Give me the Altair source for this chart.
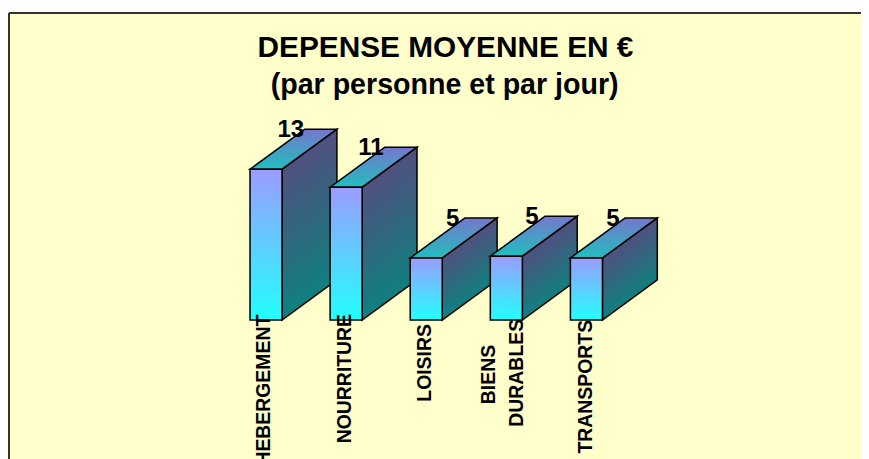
import altair as alt
import pandas as pd

# ---- data
categories = ["HEBERGEMENT", "NOURRITURE", "LOISIRS", "BIENS DURABLES", "TRANSPORTS"]
values = [13.0, 11.45, 5.35, 5.5, 5.35]
shown = ["13", "11", "5", "5", "5"]
title_lines = ["DEPENSE MOYENNE EN €", "(par personne et par jour)"]

# ---- layout (chart units: 1 x unit = one category step, 1 y unit = one euro)
W, H = 853, 451
PX_X, PX_Y = 80.1, 11.6
X0, Y0 = 242, 312          # pixel of category 0 / of zero inside the chart
BAR_W = 0.40
DEPTH_X, DEPTH_Y = 0.685, 3.45
FONT = "Liberation Sans"

x_scale = alt.Scale(domain=[-X0 / PX_X, (W - X0) / PX_X], range=[0, W], nice=False, zero=False)
y_scale = alt.Scale(domain=[-(H - Y0) / PX_Y, Y0 / PX_Y], range=[H, 0], nice=False, zero=False)
X = lambda f: alt.X(f, type="quantitative", scale=x_scale, axis=None)
Y = lambda f: alt.Y(f, type="quantitative", scale=y_scale, axis=None)


def grad(c_start, c_end, x1=0, y1=0, x2=0, y2=1):
    return alt.Gradient(gradient="linear", x1=x1, y1=y1, x2=x2, y2=y2,
                        stops=[alt.GradientStop(offset=0, color=c_start),
                               alt.GradientStop(offset=1, color=c_end)])


def side_grad(v):
    # iso-colour lines run parallel to the slanted top edge of the side face
    rise = DEPTH_Y / (v + DEPTH_Y)
    drop = 1 - rise
    s = drop / (rise ** 2 + 1)
    return grad("#50507F", "#0F8080", x1=0, y1=rise, x2=rise * s, y2=rise + s)


stroke = dict(stroke="black", strokeWidth=1.5, strokeJoin="miter")
layers = []

# panel
panel = alt.Chart(pd.DataFrame({"a": [0]}))
layers.append(panel.mark_rect(fill="#FFFFCC").encode(
    x=alt.value(1), x2=alt.value(W + 5), y=alt.value(5), y2=alt.value(H + 5)))
layers.append(panel.mark_rule(color="#333333", strokeWidth=2).encode(
    x=alt.value(1), x2=alt.value(W + 5), y=alt.value(5)))
layers.append(panel.mark_rule(color="#333333", strokeWidth=2).encode(
    x=alt.value(1), y=alt.value(5), y2=alt.value(H + 5)))

# 3-D bars, back to front
for i, v in enumerate(values):
    xl, xr = i, i + BAR_W
    side = pd.DataFrame({"x": [xr, xr + DEPTH_X], "top": [v, v + DEPTH_Y], "bot": [0, DEPTH_Y]})
    layers.append(alt.Chart(side).mark_area(fill=side_grad(v), **stroke).encode(
        x=X("x"), y=Y("top"), y2="bot"))
    top = pd.DataFrame({"y": [v, v + DEPTH_Y], "l": [xl, xl + DEPTH_X], "r": [xr, xr + DEPTH_X]})
    layers.append(alt.Chart(top).mark_area(orient="horizontal", fill=grad("#7777CC", "#1FBFBF"), **stroke).encode(
        y=Y("y"), x=X("l"), x2="r"))
    front = pd.DataFrame({"l": [xl], "r": [xr], "v": [v], "z": [0]})
    layers.append(alt.Chart(front).mark_rect(fill=grad("#9C9CFF", "#22FFFF"), **stroke).encode(
        x=X("l"), x2="r", y=Y("v"), y2="z"))

# value labels
label_shift = [0.51, 0.51, 0.53, 0.52, 0.53]
val = pd.DataFrame({"x": [i + s for i, s in enumerate(label_shift)],
                    "y": [v + 3.4 for v in values],
                    "t": shown})
layers.append(alt.Chart(val).mark_text(font=FONT, fontWeight="bold", fontSize=24, color="black",
                                       align="center", baseline="middle").encode(
    x=X("x"), y=Y("y"), text="t:N"))

# category labels (rotated)
label_rows = []
x_shift = [0.18, 0.19, 0.19, 0.0, 0.19]
y_mid = [-6.05, -5.05, -3.7, -4.5, -5.75]
for i, c in enumerate(categories):
    parts = c.split(" ")
    if len(parts) == 1:
        label_rows.append({"x": i + x_shift[i], "y": y_mid[i], "t": c})
    else:
        label_rows.append({"x": i - 0.01, "y": -4.7, "t": parts[0]})
        label_rows.append({"x": i + 0.33, "y": -4.55, "t": parts[1]})
layers.append(alt.Chart(pd.DataFrame(label_rows)).mark_text(
    font=FONT, fontWeight="bold", fontSize=19.4, color="black", angle=270,
    align="center", baseline="middle").encode(x=X("x"), y=Y("y"), text="t:N"))

# title
title_x = [2.44, 2.43]
title_y = [23.45, 20.25]
title_size = [29.8, 28.6]
for tx, ty, ts, line in zip(title_x, title_y, title_size, title_lines):
    tt = pd.DataFrame({"x": [tx], "y": [ty], "t": [line]})
    layers.append(alt.Chart(tt).mark_text(font=FONT, fontWeight="bold", fontSize=ts, color="black",
                                          align="center", baseline="middle").encode(
        x=X("x"), y=Y("y"), text="t:N"))

chart = alt.layer(*layers).properties(
    width=W, height=H, padding=0, background="white",
    autosize=alt.AutoSizeParams(type="none")
).configure_view(stroke=None)

chart.save("out.html", embed_options={"renderer": "svg", "actions": False})
